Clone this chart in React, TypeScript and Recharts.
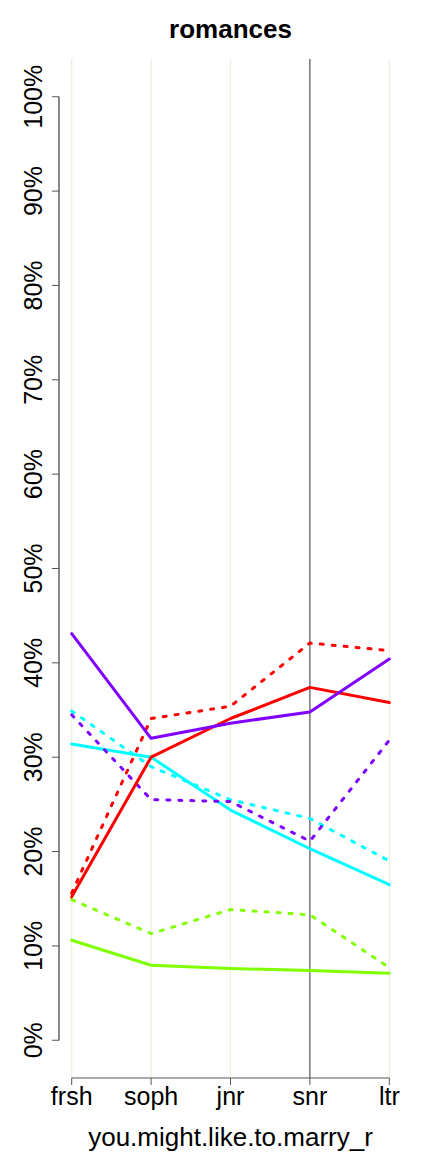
import React from 'react';
import { LineChart, Line, XAxis, YAxis, ReferenceLine } from 'recharts';

const categories = ['frsh', 'soph', 'jnr', 'snr', 'ltr'];
const yTicks = [0, 10, 20, 30, 40, 50, 60, 70, 80, 90, 100];

const redSolid = [15.2, 30.0, 34.1, 37.4, 35.8];
const redDashed = [15.6, 34.1, 35.4, 42.1, 41.3];
const purpleSolid = [43.1, 32.0, 33.6, 34.8, 40.4];
const purpleDashed = [34.5, 25.5, 25.3, 21.1, 31.8];
const cyanSolid = [31.4, 30.0, 24.4, 20.3, 16.5];
const cyanDashed = [34.9, 29.0, 25.5, 23.5, 19.0];
const greenSolid = [10.6, 7.95, 7.6, 7.4, 7.1];
const greenDashed = [14.9, 11.3, 13.85, 13.3, 7.7];

const data = categories.map((name, i) => ({
  i,
  name,
  redSolid: redSolid[i],
  redDashed: redDashed[i],
  purpleSolid: purpleSolid[i],
  purpleDashed: purpleDashed[i],
  cyanSolid: cyanSolid[i],
  cyanDashed: cyanDashed[i],
  greenSolid: greenSolid[i],
  greenDashed: greenDashed[i],
}));

const series = [
  { key: 'greenSolid', color: '#7FFF00', dash: undefined },
  { key: 'greenDashed', color: '#7FFF00', dash: '3 9' },
  { key: 'cyanDashed', color: '#00FFFF', dash: '3 9' },
  { key: 'cyanSolid', color: '#00FFFF', dash: undefined },
  { key: 'purpleDashed', color: '#7F00FF', dash: '3 9' },
  { key: 'redDashed', color: '#FF0000', dash: '3 9' },
  { key: 'redSolid', color: '#FF0000', dash: undefined },
  { key: 'purpleSolid', color: '#7F00FF', dash: undefined },
];

const font = '"Liberation Sans", Arial, Helvetica, sans-serif';

const YTick = (props: any) => {
  const { y, payload } = props;
  return (
    <text
      transform={`translate(42.3,${y}) rotate(-90)`}
      textAnchor="middle"
      fontSize={25}
      fontFamily={font}
      fill="#000"
    >
      {`${payload.value}%`}
    </text>
  );
};

const XTick = (props: any) => {
  const { x, payload } = props;
  return (
    <text x={x} y={1105} textAnchor="middle" fontSize={25} fontFamily={font} fill="#000">
      {categories[payload.value]}
    </text>
  );
};

export default function App() {
  return (
    <div style={{ position: 'absolute', left: 0, top: 0, width: 432, height: 1152, background: '#fff' }}>
      <div
        style={{
          position: 'absolute',
          left: 0,
          width: 461,
          top: 14,
          textAlign: 'center',
          fontFamily: font,
          fontWeight: 'bold',
          fontSize: 26,
          lineHeight: '30px',
        }}
      >
        romances
      </div>
      <LineChart width={432} height={1152} data={data} margin={{ top: 59, right: 30, bottom: 0, left: 0 }}>
        <XAxis
          dataKey="i"
          type="number"
          domain={[-0.16, 4.16]}
          ticks={[0, 1, 2, 3, 4]}
          allowDataOverflow
          axisLine={false}
          tickLine={{ stroke: '#555' }}
          tickSize={7}
          height={74}
          tick={<XTick />}
        />
        <YAxis
          type="number"
          domain={[-4, 104]}
          ticks={yTicks}
          allowDataOverflow
          axisLine={false}
          tickLine={{ stroke: '#555' }}
          tickSize={7}
          width={59}
          tick={<YTick />}
        />
        {[0, 1, 2, 4].map((v) => (
          <ReferenceLine key={v} x={v} stroke="#EEEEDD" strokeWidth={1.2} />
        ))}
        <ReferenceLine x={3} stroke="#555" strokeWidth={1.2} />
        <ReferenceLine
          segment={[{ x: -0.16, y: 0 }, { x: -0.16, y: 100 }]}
          stroke="#888"
          strokeWidth={2}
          ifOverflow="visible"
        />
        <ReferenceLine
          segment={[{ x: 0, y: -4 }, { x: 4, y: -4 }]}
          stroke="#555"
          strokeWidth={1.2}
          ifOverflow="visible"
        />
        {series.map((s) => (
          <Line
            key={s.key}
            dataKey={s.key}
            type="linear"
            stroke={s.color}
            strokeWidth={3}
            strokeDasharray={s.dash}
            strokeLinecap="round"
            strokeLinejoin="round"
            dot={false}
            activeDot={false}
            isAnimationActive={false}
          />
        ))}
      </LineChart>
      <div
        style={{
          position: 'absolute',
          left: 0,
          width: 461,
          top: 1122,
          textAlign: 'center',
          fontFamily: font,
          fontSize: 26,
          lineHeight: '30px',
        }}
      >
        you.might.like.to.marry_r
      </div>
    </div>
  );
}
